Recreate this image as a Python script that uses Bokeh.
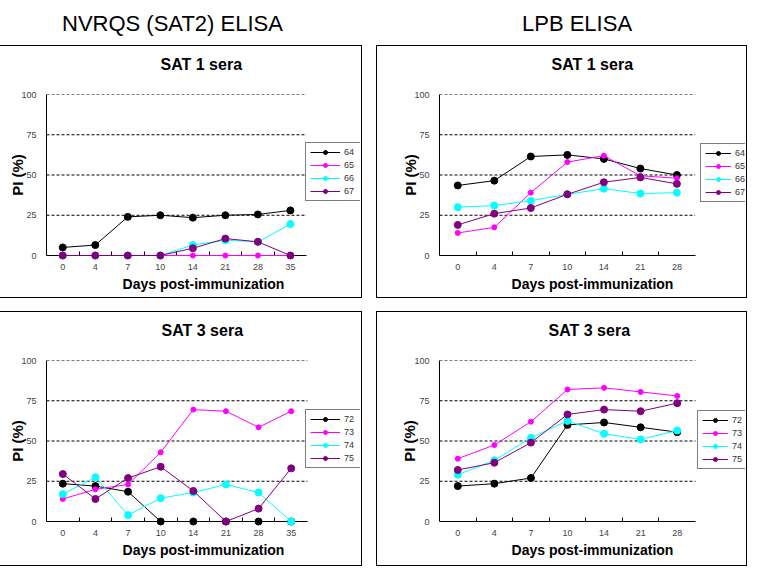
from bokeh.plotting import figure
from bokeh.models import (Range1d, FixedTicker, Legend, LegendItem, Div, Spacer, Title, GridBox)
from bokeh.embed import file_html
from bokeh.resources import INLINE

# ---------------- data ----------------
days_nv = ["0", "4", "7", "10", "14", "21", "28", "35"]
days_lpb = ["0", "4", "7", "10", "14", "21", "28"]

sat1_labels = ["64", "65", "66", "67"]
sat3_labels = ["72", "73", "74", "75"]

# NVRQS (SAT2) ELISA - SAT 1 sera
nv_s1_64 = [5, 6.5, 24, 25, 23.5, 25, 25.5, 28]
nv_s1_65 = [0, 0, 0, 0, 0, 0, 0, 0]
nv_s1_66 = [0, 0, 0, 0, 6.5, 9.5, 8.5, 19.5]
nv_s1_67 = [0, 0, 0, 0, 4.5, 10.5, 8.5, 0]

# LPB ELISA - SAT 1 sera
lpb_s1_64 = [43.5, 46.5, 61.5, 62.5, 60, 54, 50]
lpb_s1_65 = [14, 17.5, 39, 58, 62, 49.5, 48]
lpb_s1_66 = [30, 31, 34, 38, 41.5, 38.5, 39]
lpb_s1_67 = [19, 26, 29.5, 38, 45.5, 48.5, 44.5]

# NVRQS (SAT2) ELISA - SAT 3 sera
nv_s3_72 = [23.5, 22, 18.5, 0, 0, 0, 0, 0]
nv_s3_73 = [14, 20, 23, 43, 69.5, 68.5, 58.5, 68.5]
nv_s3_74 = [17, 27.5, 4, 14.5, 18, 23, 18, 0]
nv_s3_75 = [29.5, 14, 27, 34, 19, 0, 8, 33]

# LPB ELISA - SAT 3 sera
lpb_s3_72 = [22, 23.5, 27, 60, 61.5, 58.5, 55.5]
lpb_s3_73 = [39, 47.5, 62, 82, 83, 80.5, 78]
lpb_s3_74 = [29, 38, 52, 62.5, 54.5, 51, 56.5]
lpb_s3_75 = [32, 36.5, 49, 66.5, 69.5, 68.5, 73.5]

y_ticks = [0, 25, 50, 75, 100]
grid_levels = [25, 50, 75, 100]

colors = ["#000000", "#FF00FF", "#00FFFF", "#800080"]
msizes = [7, 5, 7, 7]

FONT = "Liberation Sans"


def make_panel(days, series, labels, title, width, height, borders, data_w,
               title_offset, leg_loc, glyph_w, ylab_standoff):
    n = len(days)
    xs = list(range(n))
    bl, bt, br, bb = borders
    frame_w = width - bl - br
    x_end = -0.5 + n * frame_w / data_w   # frame extends right to hold the legend
    p = figure(width=width, height=height, output_backend="svg", toolbar_location=None,
               x_range=Range1d(-0.5, x_end), y_range=Range1d(0, 100),
               min_border_left=bl, min_border_top=bt, min_border_right=br, min_border_bottom=bb,
               outline_line_color=None, background_fill_color="white",
               border_fill_color="white", width_policy="fixed", height_policy="fixed",
               styles={"outline": "1px solid black"})
    # a small blank band between the frame and the panel title
    p.add_layout(Title(text=" ", text_font=FONT, text_font_size="8px", standoff=0), "above")
    p.add_layout(Title(text=title, text_font=FONT, text_font_size="16px", text_font_style="bold",
                       align="left", offset=title_offset, standoff=18, vertical_align="top",
                       text_color="black"), "above")
    # axes
    p.xaxis.bounds = (-0.5, n - 0.5)
    p.xaxis.ticker = FixedTicker(ticks=xs, minor_ticks=[i + 0.5 for i in range(n - 1)])
    p.xaxis.major_label_overrides = {i: d for i, d in enumerate(days)}
    p.xaxis.major_tick_in = 0
    p.xaxis.major_tick_out = 0
    p.xaxis.minor_tick_in = 4
    p.xaxis.minor_tick_out = 0
    p.xaxis.minor_tick_line_color = "black"
    p.xaxis.axis_label = "Days post-immunization"
    p.xaxis.axis_label_standoff = 3
    p.xaxis.major_label_standoff = 8
    p.yaxis.ticker = FixedTicker(ticks=y_ticks)
    p.yaxis.major_tick_in = 0
    p.yaxis.major_tick_out = 0
    p.yaxis.minor_tick_line_color = None
    p.yaxis.axis_label = "PI (%)"
    p.yaxis.axis_label_standoff = ylab_standoff
    p.yaxis.major_label_standoff = 10
    for ax in (p.xaxis[0], p.yaxis[0]):
        ax.axis_line_color = "black"
        ax.axis_line_width = 1
        ax.major_label_text_font = FONT
        ax.major_label_text_font_size = "9px"
        ax.major_label_text_color = "#444444"
        ax.axis_label_text_font = FONT
        ax.axis_label_text_font_style = "bold"
        ax.axis_label_text_color = "black"
    p.xaxis.axis_label_text_font_size = "14px"
    p.yaxis.axis_label_text_font_size = "15px"
    p.xgrid.grid_line_color = None
    p.ygrid.grid_line_color = None

    # dashed horizontal grid lines, limited to the data area
    p.segment(x0=[-0.5] * len(grid_levels), y0=grid_levels,
              x1=[n - 0.5] * len(grid_levels), y1=grid_levels,
              line_color="black", line_width=1, line_dash="3 2")

    items = []
    for ys, lab, c, s in zip(series, labels, colors, msizes):
        lr = p.line(xs, ys, line_color=c, line_width=1, level="overlay")
        sr = p.scatter(xs, ys, marker="circle", size=s, fill_color=c, line_color=c, level="overlay")
        items.append(LegendItem(label=lab, renderers=[lr, sr]))
    leg = Legend(items=items, location=leg_loc, margin=0, padding=4, spacing=3,
                 label_height=10, glyph_height=10, glyph_width=glyph_w, label_standoff=4,
                 label_text_font=FONT, label_text_font_size="9px", label_text_color="#333333",
                 border_line_color="black", border_line_width=1, background_fill_alpha=1,
                 background_fill_color="white")
    p.add_layout(leg)
    return p


p1 = make_panel(days_nv, [nv_s1_64, nv_s1_65, nv_s1_66, nv_s1_67], sat1_labels, "SAT 1 sera",
                361, 251, (45, 45, 1, 42), 261, 114, (259, 54), 30, -8)
p2 = make_panel(days_lpb, [lpb_s1_64, lpb_s1_65, lpb_s1_66, lpb_s1_67], sat1_labels, "SAT 1 sera",
                369, 251, (58, 46, 1, 42), 259, 112, (261, 53), 26, -8)
p3 = make_panel(days_nv, [nv_s3_72, nv_s3_73, nv_s3_74, nv_s3_75], sat3_labels, "SAT 3 sera",
                361, 253, (46, 46, 1, 44), 261, 115, (259, 53), 30, -8)
p4 = make_panel(days_lpb, [lpb_s3_72, lpb_s3_73, lpb_s3_74, lpb_s3_75], sat3_labels, "SAT 3 sera",
                369, 253, (62, 45, 1, 44), 256, 109, (258, 52), 26, -7)

h1 = Div(text="NVRQS (SAT2) ELISA", width=300, height=36,
         styles={"font-family": "Liberation Sans", "font-size": "22px", "color": "black",
                 "padding-left": "57px", "padding-top": "3px", "white-space": "nowrap"})
h2 = Div(text="LPB ELISA", width=300, height=36,
         styles={"font-family": "Liberation Sans", "font-size": "22px", "color": "black",
                 "padding-left": "140px", "padding-top": "3px", "white-space": "nowrap"})

layout = GridBox(children=[
    (h1, 0, 0), (h2, 0, 2),
    (p1, 1, 0), (Spacer(width=16, height=10), 1, 1), (p2, 1, 2),
    (Spacer(width=10, height=15), 2, 0),
    (p3, 3, 0), (p4, 3, 2),
])

open("out.html", "w").write(file_html(layout, INLINE))
